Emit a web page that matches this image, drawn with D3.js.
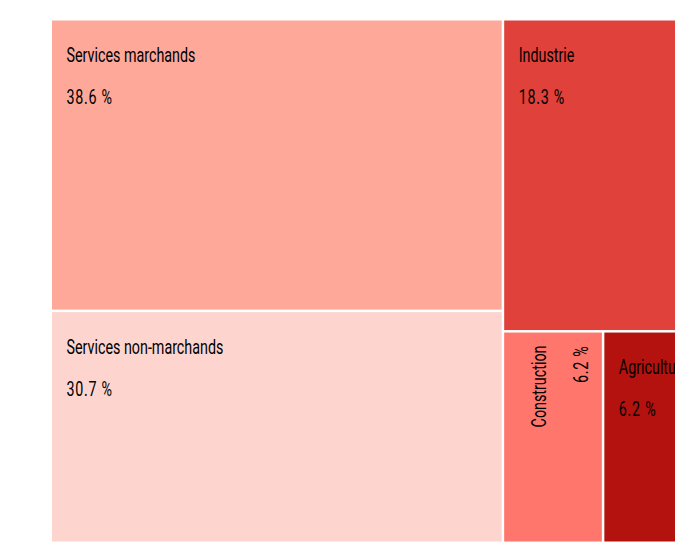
<!DOCTYPE html>
<html>
<head>
<meta charset="utf-8">
<script src="https://cdn.jsdelivr.net/npm/d3@7"></script>
<style>
  html, body { margin: 0; padding: 0; background: #ffffff; }
  svg { display: block; }
  text { font-family: "Roboto", "Liberation Sans", sans-serif; fill: #000; font-weight: 400; }
</style>
</head>
<body>
<svg id="chart" width="675" height="548"></svg>
<script>
const categories = ["Services marchands", "Services non-marchands", "Industrie", "Construction", "Agriculture"];
const shares = [38.6, 30.7, 18.3, 6.2, 6.2];
const percentLabels = ["38.6 %", "30.7 %", "18.3 %", "6.2 %", "6.2 %"];
const colors = ["#fea89a", "#fed5ce", "#e0413a", "#fe766c", "#b4120e"];
const rotatedLabels = [false, false, false, true, false];

const svg = d3.select("#chart");
const margin = {left: 52, top: 20.5};
const W = 650, H = 521;

const data = {children: categories.map((c, i) => ({name: c, value: shares[i], pct: percentLabels[i], color: colors[i], rot: rotatedLabels[i]}))};
const root = d3.hierarchy(data).sum(d => d.value || 0).sort((a, b) => b.value - a.value);
d3.treemap().tile(d3.treemapSquarify).size([W, H]).paddingInner(2.5).round(false)(root);

const g = svg.append("g").attr("transform", `translate(${margin.left},${margin.top})`);
const cell = g.selectAll("g.cell").data(root.leaves()).join("g").attr("class", "cell");

cell.append("rect")
  .attr("x", d => d.x0).attr("y", d => d.y0)
  .attr("width", d => d.x1 - d.x0).attr("height", d => d.y1 - d.y0)
  .attr("fill", d => d.data.color);

const fs = 19.5;
// condensed look: measure a sample and squeeze horizontally
const probe = svg.append("text").attr("font-size", fs).text(categories[0]);
const sx = 129 / probe.node().getComputedTextLength();
probe.remove();

function label(parent, x, y, txt, anchor, ls) {
  parent.append("text")
    .attr("transform", `translate(${x},${y}) scale(${sx},1)`)
    .attr("text-anchor", anchor)
    .attr("font-size", fs)
    .attr("letter-spacing", ls)
    .text(txt);
}

cell.each(function(d) {
  const sel = d3.select(this);
  if (!d.data.rot) {
    label(sel, d.x0 + 14.5, d.y0 + 41.5, d.data.name, "start", 0);
    label(sel, d.x0 + 14.5, d.y0 + 83.5, d.data.pct, "start", 1);
  } else {
    const t = sel.append("g").attr("transform", `translate(${d.x0},${d.y0 + 13}) rotate(-90)`);
    label(t, 0, 41.5, d.data.name, "end", 0);
    label(t, 0, 83.5, d.data.pct, "end", 1);
  }
});
</script>
</body>
</html>
